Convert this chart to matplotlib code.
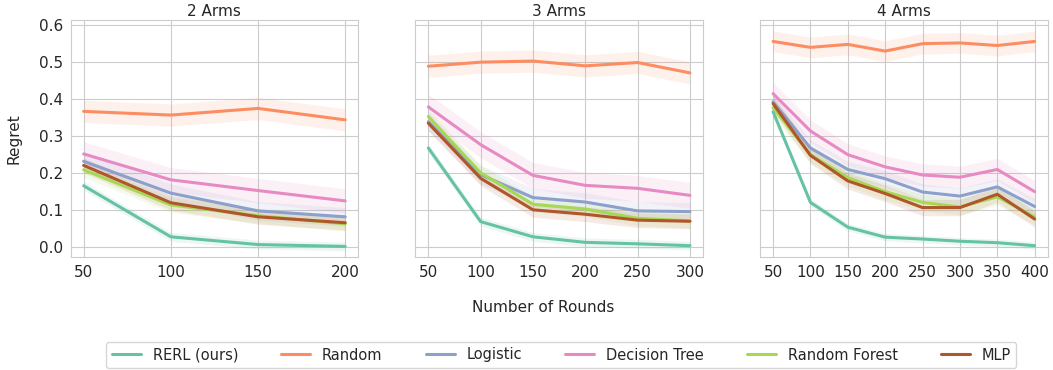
import numpy as np
import matplotlib
matplotlib.use("Agg")
import matplotlib.pyplot as plt
import seaborn as sns

sns.set_style("whitegrid")
plt.rcParams['font.family'] = ['DejaVu Sans']

# rounds for each panel
rounds_2 = [50, 100, 150, 200]
rounds_3 = [50, 100, 150, 200, 250, 300]
rounds_4 = [50, 100, 150, 200, 250, 300, 350, 400]

methods = ["RERL (ours)", "Random", "Logistic", "Decision Tree", "Random Forest", "MLP"]
colors = ["#66c2a5", "#fc8d62", "#8da0cb", "#e78ac3", "#a6d854", "#b0562a"]

# 2 arms
rerl_2 = [0.166, 0.028, 0.007, 0.002]
random_2 = [0.367, 0.357, 0.375, 0.344]
logistic_2 = [0.232, 0.146, 0.098, 0.082]
dtree_2 = [0.252, 0.182, 0.153, 0.125]
rforest_2 = [0.209, 0.114, 0.085, 0.063]
mlp_2 = [0.221, 0.120, 0.082, 0.066]

# 3 arms
rerl_3 = [0.268, 0.069, 0.028, 0.013, 0.009, 0.004]
random_3 = [0.489, 0.500, 0.503, 0.490, 0.499, 0.471]
logistic_3 = [0.339, 0.196, 0.134, 0.122, 0.098, 0.096]
dtree_3 = [0.379, 0.277, 0.194, 0.167, 0.159, 0.140]
rforest_3 = [0.353, 0.201, 0.116, 0.103, 0.078, 0.071]
mlp_3 = [0.335, 0.186, 0.101, 0.089, 0.073, 0.070]

# 4 arms
rerl_4 = [0.366, 0.121, 0.054, 0.027, 0.022, 0.016, 0.012, 0.004]
random_4 = [0.556, 0.540, 0.548, 0.530, 0.550, 0.552, 0.545, 0.556]
logistic_4 = [0.393, 0.268, 0.210, 0.185, 0.149, 0.138, 0.163, 0.110]
dtree_4 = [0.415, 0.314, 0.250, 0.217, 0.195, 0.189, 0.210, 0.150]
rforest_4 = [0.377, 0.250, 0.188, 0.150, 0.121, 0.109, 0.136, 0.082]
mlp_4 = [0.388, 0.248, 0.179, 0.145, 0.107, 0.107, 0.143, 0.076]

# approximate half-width of shaded bands, per method
band_2 = [0.012, 0.03, 0.025, 0.033, 0.02, 0.02]
band_3 = [0.012, 0.03, 0.025, 0.035, 0.02, 0.02]
band_4 = [0.01, 0.028, 0.022, 0.03, 0.022, 0.022]

panels = [
    ("2 Arms", rounds_2, [rerl_2, random_2, logistic_2, dtree_2, rforest_2, mlp_2], band_2),
    ("3 Arms", rounds_3, [rerl_3, random_3, logistic_3, dtree_3, rforest_3, mlp_3], band_3),
    ("4 Arms", rounds_4, [rerl_4, random_4, logistic_4, dtree_4, rforest_4, mlp_4], band_4),
]

fig, axes = plt.subplots(1, 3, figsize=(10.53, 3.7), dpi=100, sharey=True)
fig.subplots_adjust(left=0.067, right=0.995, top=0.946, bottom=0.305, wspace=0.198)

for ax, (title, x, series, band) in zip(axes, panels):
    for name, col, y, b in zip(methods, colors, series, band):
        y = np.array(y)
        ax.fill_between(x, y - b, y + b, color=col, alpha=0.12, linewidth=0)
        ax.plot(x, y, color=col, lw=2.2, label=name)
    ax.set_title(title, fontsize=11, pad=3, color="#262626")
    ax.set_xticks(x)
    ax.tick_params(labelsize=11, colors="#262626", pad=2)
    for s in ax.spines.values():
        s.set_color("#cccccc")

axes[0].set_ylim(-0.027, 0.614)
axes[0].set_yticks([0.0, 0.1, 0.2, 0.3, 0.4, 0.5, 0.6])
axes[0].set_ylabel("Regret", fontsize=11, color="#262626", labelpad=12)
fig.text(0.516, 1 - 308 / 370, "Number of Rounds", ha="center", va="center", fontsize=11, color="#262626")

handles, labels = axes[0].get_legend_handles_labels()
fig.legend(handles, labels, loc="center", bbox_to_anchor=(0.533, 1 - 355 / 370), ncol=6,
           fontsize=10.5, frameon=True, columnspacing=2.95, handlelength=2.0)

fig.savefig("out.png", dpi=100)
